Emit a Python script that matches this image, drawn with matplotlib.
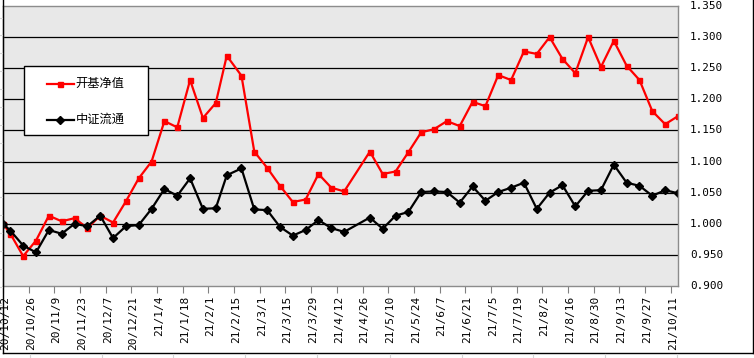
import datetime as dt

import matplotlib
matplotlib.use("Agg")
import matplotlib.pyplot as plt
from matplotlib.lines import Line2D
from matplotlib.patches import Rectangle
from matplotlib.transforms import Affine2D, ScaledTranslation, blended_transform_factory

# ───────────────────── data ─────────────────────
dates = [
    "2020-10-12", "2020-10-16", "2020-10-23", "2020-10-30", "2020-11-06",
    "2020-11-13", "2020-11-20", "2020-11-27", "2020-12-04", "2020-12-11",
    "2020-12-18", "2020-12-25", "2021-01-01", "2021-01-08", "2021-01-15",
    "2021-01-22", "2021-01-29", "2021-02-05", "2021-02-11", "2021-02-19",
    "2021-02-26", "2021-03-05", "2021-03-12", "2021-03-19", "2021-03-26",
    "2021-04-02", "2021-04-09", "2021-04-16", "2021-04-30", "2021-05-07",
    "2021-05-14", "2021-05-21", "2021-05-28", "2021-06-04", "2021-06-11",
    "2021-06-18", "2021-06-25", "2021-07-02", "2021-07-09", "2021-07-16",
    "2021-07-23", "2021-07-30", "2021-08-06", "2021-08-13", "2021-08-20",
    "2021-08-27", "2021-09-03", "2021-09-10", "2021-09-17", "2021-09-24",
    "2021-10-01", "2021-10-08", "2021-10-15",
]
fund_nav = [
    1.000, 0.984, 0.948, 0.973, 1.013, 1.004, 1.009, 0.993, 1.013, 1.002,
    1.036, 1.073, 1.100, 1.165, 1.155, 1.231, 1.170, 1.194, 1.270, 1.238,
    1.116, 1.090, 1.061, 1.035, 1.039, 1.080, 1.058, 1.052, 1.116, 1.080,
    1.084, 1.115, 1.147, 1.152, 1.165, 1.157, 1.196, 1.189, 1.239, 1.231,
    1.277, 1.273, 1.300, 1.265, 1.242, 1.300, 1.252, 1.294, 1.254, 1.231,
    1.181, 1.160, 1.173,
]
csi_float = [
    1.000, 0.989, 0.965, 0.954, 0.990, 0.984, 1.000, 0.996, 1.013, 0.977,
    0.996, 0.998, 1.024, 1.056, 1.045, 1.073, 1.024, 1.025, 1.078, 1.089,
    1.023, 1.022, 0.995, 0.981, 0.990, 1.006, 0.993, 0.987, 1.010, 0.992,
    1.013, 1.019, 1.051, 1.052, 1.051, 1.034, 1.060, 1.037, 1.051, 1.058,
    1.066, 1.024, 1.050, 1.062, 1.028, 1.053, 1.054, 1.095, 1.066, 1.061,
    1.045, 1.054, 1.049,
]
series_names = ["开基净值", "中证流通"]
y_ticks = [0.90, 0.95, 1.00, 1.05, 1.10, 1.15, 1.20, 1.25, 1.30, 1.35]

x = [dt.datetime.strptime(d, "%Y-%m-%d") for d in dates]
x_start = dt.datetime(2020, 10, 12)
x_end = dt.datetime(2021, 10, 15)
x_ticks = [x_start + dt.timedelta(days=14 * i) for i in range(27)]

# ───────────────────── figure ─────────────────────
W, H = 754, 358
plt.rcParams["font.family"] = ["Noto Sans CJK SC", "DejaVu Sans"]
fig = plt.figure(figsize=(W / 100, H / 100), dpi=100)
fig.patch.set_facecolor("white")

# pixel (from top-left) -> figure transform, for the frame decorations
px = Affine2D().scale(1 / W, -1 / H).translate(0, 1) + fig.transFigure

ax = fig.add_axes([3 / W, (H - 286) / H, 675 / W, 280 / H])
ax.set_facecolor("#e8e8e8")

# horizontal grid lines (black)
for yv in y_ticks[1:-1]:
    ax.axhline(yv, color="black", lw=0.9, zorder=1)

ax.plot(x, fund_nav, color="#ff0000", lw=1.6, marker="s", ms=3.6,
        mec="#ff0000", mfc="#ff0000", zorder=3)
ax.plot(x, csi_float, color="black", lw=1.6, marker="D", ms=4.2,
        mec="black", mfc="black", zorder=4)

ax.set_xlim(x_start, x_end)
ax.set_ylim(0.90, 1.35)

# y labels on the right, placed 12 px right of the plot edge
ax.set_yticks([])
ylab_tr = blended_transform_factory(fig.transFigure, ax.transData)
for yv in y_ticks:
    ax.text(690 / W, yv, f"{yv:.3f}", transform=ylab_tr, ha="left",
            va="center", family="DejaVu Sans Mono", fontsize=7.9,
            clip_on=False)

# x axis: dates every 2 weeks, vertical labels
ax.set_xticks(x_ticks)
ax.set_xticklabels([f"{d.year % 100}/{d.month}/{d.day}" for d in x_ticks],
                   rotation=90, family="DejaVu Sans Mono", fontsize=8,
                   va="top", ha="center")
ax.tick_params(axis="x", length=5, color="#808080", width=0.8, pad=2)
shift = ScaledTranslation(2 / 100, 0, fig.dpi_scale_trans)
for lab in ax.get_xticklabels():
    lab.set_transform(lab.get_transform() + shift)

for s in ax.spines.values():
    s.set_color("#8c8c8c")
    s.set_linewidth(1.0)
    s.set_zorder(5)

# ───────────────────── legend box ─────────────────────
fig.add_artist(Rectangle((23.5, 135), 124, -69.5, transform=px,
                         facecolor="white", edgecolor="black", lw=1.0,
                         zorder=10))
for (yy, col, mk, ms), name in zip([(83.5, "#ff0000", "s", 3.6),
                                    (119.5, "black", "D", 4.2)],
                                   series_names):
    fig.add_artist(Line2D([47, 73.5], [yy, yy], transform=px, color=col,
                          lw=1.6, zorder=11))
    fig.add_artist(Line2D([60], [yy], transform=px, color=col, marker=mk,
                          ms=ms, zorder=11))
    fig.text(75.5 / W, 1 - yy / H, name, fontsize=8.8, va="center",
             ha="left", zorder=12)

# ───────────────────── chart frame + sheet cell lines ─────────────────────
for xs, ys in [([2.5, 2.5], [0, 352.5]), ([2.5, 752.5], [352.5, 352.5]),
               ([752.5, 752.5], [0, 352.5])]:
    fig.add_artist(Line2D(xs, ys, transform=px, color="black", lw=1.0))

cell_x = [30, 101.7, 173.3, 245, 316.7, 390, 461.7, 533, 605, 677]
for cx in cell_x:
    fig.add_artist(Line2D([cx, cx], [353.5, 358], transform=px,
                          color="#d4d4d4", lw=0.8))
cell_y = [17.5 + 17.95 * i for i in range(19)]
for cy in cell_y:
    fig.add_artist(Line2D([753.5, 754], [cy, cy], transform=px,
                          color="#d4d4d4", lw=0.8))
    fig.add_artist(Line2D([0, 2], [cy, cy], transform=px,
                          color="#d4d4d4", lw=0.8))

fig.savefig("out.png", dpi=100)
